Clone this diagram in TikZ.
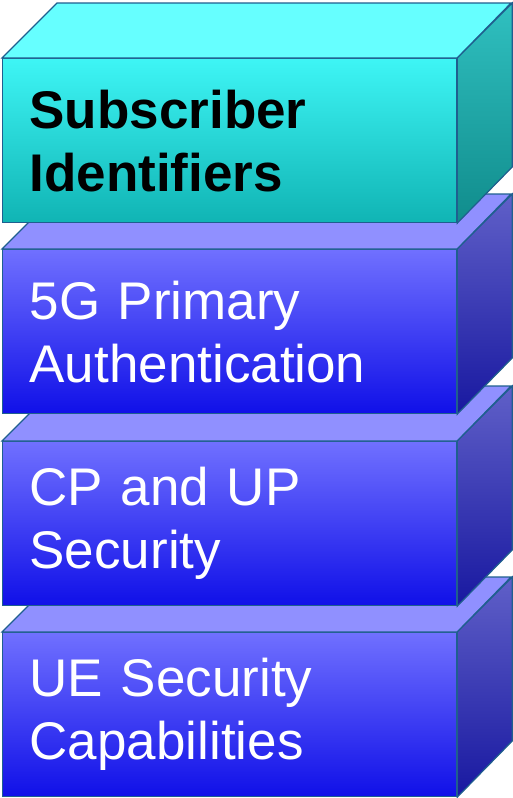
\documentclass[tikz,border=0pt]{standalone}
\usepackage{fontspec}
\setmainfont{Liberation Sans}
\usepackage{tikz}
\usetikzlibrary{positioning, calc}
\definecolor{edgeblue}{RGB}{31,95,143}
\definecolor{cyanlid}{RGB}{102,255,255}
\definecolor{cyanhi}{RGB}{62,245,245}
\definecolor{cyanlo}{RGB}{16,180,180}
\definecolor{cyanside}{RGB}{48,192,192}
\definecolor{cyansidelo}{RGB}{16,140,140}
\definecolor{bluelid}{RGB}{144,144,255}
\definecolor{bluehi}{RGB}{112,112,255}
\definecolor{bluelo}{RGB}{16,16,232}
\definecolor{blueside}{RGB}{96,96,200}
\definecolor{bluesidelo}{RGB}{24,24,160}

\begin{document}
\begin{tikzpicture}[
    x=1pt, y=1pt,
    face/.style={draw=edgeblue, line width=1.2pt, line join=miter},
    front/.style={face, rectangle, anchor=north west, align=left,
                  text width=400pt, inner xsep=27pt, inner ysep=0pt,
                  minimum height=164pt,
                  font=\fontsize{53}{63}\selectfont},
    cfront/.style={front, top color=cyanhi, bottom color=cyanlo,
                   text=black, font=\fontsize{53}{63}\selectfont\bfseries},
    bfront/.style={front, top color=bluehi, bottom color=bluelo, text=white},
    clid/.style={face, fill=cyanlid},
    cside/.style={face, top color=cyanside, bottom color=cyansidelo},
    blid/.style={face, fill=bluelid},
    bside/.style={face, top color=blueside, bottom color=bluesidelo}
]
\useasboundingbox (0,0) rectangle (513,-798);

% bottom layer first, upper layers cover it
\node[bfront] (caps) at (2,-632) {UE Security\\Capabilities};
\fill[blid] (caps.north west) -- ++(55,55) -- ++(454,0) -- (caps.north east) -- cycle;
\fill[bside] (caps.north east) -- ++(55,55) -- ++(0,-164) -- (caps.south east) -- cycle;

\node[bfront] (cpup) at (2,-441) {CP and UP\\Security};
\fill[blid] (cpup.north west) -- ++(55,55) -- ++(454,0) -- (cpup.north east) -- cycle;
\fill[bside] (cpup.north east) -- ++(55,55) -- ++(0,-164) -- (cpup.south east) -- cycle;

\node[bfront] (auth) at (2,-249) {5G Primary\\Authentication};
\fill[blid] (auth.north west) -- ++(55,55) -- ++(454,0) -- (auth.north east) -- cycle;
\fill[bside] (auth.north east) -- ++(55,55) -- ++(0,-164) -- (auth.south east) -- cycle;

\node[cfront] (subid) at (2,-58) {Subscriber\\Identifiers};
\fill[clid] (subid.north west) -- ++(55,55) -- ++(454,0) -- (subid.north east) -- cycle;
\fill[cside] (subid.north east) -- ++(55,55) -- ++(0,-164) -- (subid.south east) -- cycle;
\end{tikzpicture}
\end{document}
